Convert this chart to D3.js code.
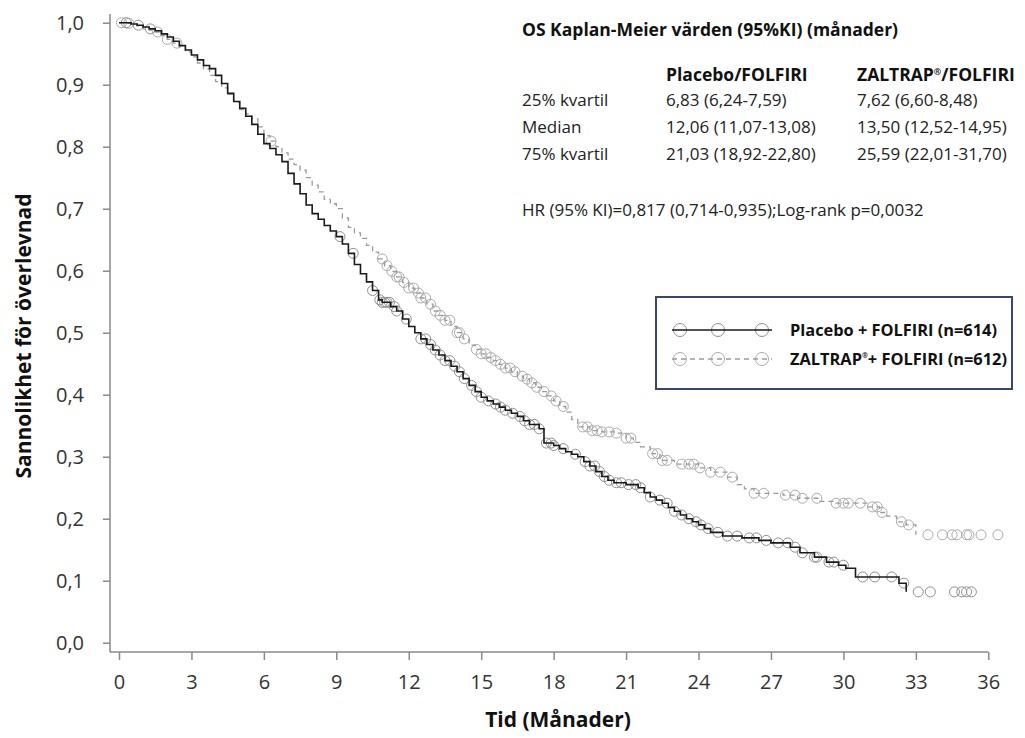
<!DOCTYPE html>
<html>
<head>
<meta charset="utf-8">
<title>OS Kaplan-Meier</title>
<script src="https://d3js.org/d3.v7.min.js"></script>
<style>
  body { margin: 0; background: #fff; }
  svg { font-family: "Open Sans", "Noto Sans", sans-serif; }
  .axis path { display: none; }
  .axis line { stroke: #8a8a8a; stroke-width: 1.5; }
  .axis text { font-family: "Open Sans", sans-serif; font-size: 20px; fill: #333; }
  .axis-title { font-size: 21px; font-weight: bold; fill: #111; }
  .tbl { font-size: 17px; fill: #222; }
  .tbl-b { font-size: 17.5px; font-weight: bold; fill: #111; }
  .leg-text { font-size: 16px; font-weight: bold; fill: #111; }
</style>
</head>
<body>
<div id="chart"></div>
<script>
// Kaplan-Meier steps: time (months) and survival
const placeboTime = [0, 0.25, 0.5, 0.75, 1.0, 1.25, 1.5, 1.75, 2.0, 2.25, 2.5, 2.75, 3.0, 3.25, 3.5, 3.75, 4.0, 4.25, 4.5, 4.75,
  5.0, 5.25, 5.5, 5.75, 6.0, 6.25, 6.5, 6.75, 7.0, 7.25, 7.5, 7.75, 8.0, 8.25, 8.5, 8.75, 9.0, 9.25, 9.5, 9.75,
  10.0, 10.25, 10.5, 10.75, 10.9, 11.25, 11.5, 11.75, 12.0, 12.25, 12.5, 12.75, 13.0, 13.25, 13.5, 13.75, 14.0, 14.25, 14.5, 14.75,
  15.0, 15.25, 15.5, 15.75, 16.0, 16.25, 16.5, 16.75, 17.0, 17.4, 17.6, 18.0, 18.25, 18.5, 18.75, 19.0, 19.25, 19.5, 19.75, 20.0,
  20.25, 20.5, 21.0, 21.5, 21.75, 22.0, 22.25, 22.5, 22.75, 23.0, 23.25, 23.5, 23.75, 24.0, 24.25, 24.5, 25.0, 25.8, 26.5, 27.0,
  27.8, 28.2, 28.8, 29.3, 29.8, 30.1, 30.5, 32.3, 32.6];
const placeboSurv = [1.0, 1.0, 0.998, 0.996, 0.993, 0.99, 0.987, 0.982, 0.977, 0.97, 0.963, 0.956, 0.948, 0.94, 0.931, 0.926, 0.915, 0.902, 0.886, 0.873,
  0.862, 0.849, 0.836, 0.82, 0.805, 0.797, 0.787, 0.776, 0.757, 0.74, 0.724, 0.706, 0.692, 0.683, 0.673, 0.664, 0.655, 0.643, 0.628, 0.61,
  0.595, 0.582, 0.568, 0.553, 0.549, 0.542, 0.535, 0.522, 0.51, 0.5, 0.49, 0.481, 0.472, 0.464, 0.455, 0.446, 0.437, 0.426, 0.415, 0.405,
  0.396, 0.39, 0.385, 0.38, 0.375, 0.37, 0.365, 0.358, 0.352, 0.345, 0.322, 0.318, 0.313, 0.308, 0.304, 0.30, 0.292, 0.285, 0.276, 0.268,
  0.262, 0.258, 0.255, 0.25, 0.242, 0.235, 0.23, 0.225, 0.218, 0.212, 0.206, 0.2, 0.195, 0.19, 0.184, 0.178, 0.172, 0.169, 0.165, 0.161,
  0.154, 0.145, 0.138, 0.13, 0.125, 0.12, 0.106, 0.096, 0.082];
const placeboCensor = [0.3, 0.8, 1.3, 9.15, 9.7, 10.5, 10.8, 10.9, 11.0, 11.1, 11.2, 11.4, 11.5, 11.9, 12.5, 12.7, 12.9, 13.1, 13.3, 13.5,
  13.7, 13.9, 14.1, 14.3, 14.6, 14.8, 15.0, 15.3, 15.6, 15.8, 16.0, 16.3, 16.6, 16.8, 17.0, 17.2, 17.4, 17.7, 17.9, 18.0,
  18.4, 18.9, 19.3, 19.5, 19.7, 19.9, 20.1, 20.3, 20.6, 20.8, 21.1, 21.4, 21.6, 22.0, 22.4, 22.7, 23.0, 23.3, 23.6, 23.9,
  24.1, 24.4, 24.8, 25.2, 25.6, 26.1, 26.4, 26.8, 27.3, 27.7, 28.0, 28.3, 28.8, 28.9, 29.4, 29.6, 30.0, 30.8, 31.3, 32.0,
  32.5, 33.1, 33.6, 34.6, 34.9, 35.1, 35.3];

const zaltrapTime = [0, 0.25, 0.5, 0.75, 1.0, 1.25, 1.5, 1.75, 2.0, 2.25, 2.5, 2.75, 3.0, 3.25, 3.5, 3.75, 4.0, 4.25, 4.5, 4.75,
  5.0, 5.25, 5.5, 5.75, 6.0, 6.25, 6.5, 6.75, 7.0, 7.25, 7.5, 7.75, 8.0, 8.25, 8.5, 8.75, 9.0, 9.25, 9.5, 9.75,
  10.0, 10.25, 10.5, 10.75, 11.0, 11.25, 11.5, 11.75, 12.0, 12.25, 12.5, 12.75, 13.0, 13.25, 13.5, 13.75, 14.0, 14.25, 14.5, 14.75,
  15.0, 15.25, 15.5, 15.75, 16.0, 16.25, 16.5, 16.75, 17.0, 17.25, 17.5, 17.75, 18.0, 18.25, 18.5, 18.75, 19.0, 19.5, 20.0, 20.6,
  21.0, 21.3, 21.6, 22.0, 22.4, 23.0, 24.0, 24.5, 25.2, 25.6, 25.9, 26.3, 27.5, 28.1, 29.0, 29.6, 31.0, 31.5, 31.8, 32.2,
  32.6, 33.0];
const zaltrapSurv = [1.0, 0.999, 0.998, 0.995, 0.99, 0.988, 0.985, 0.979, 0.973, 0.967, 0.961, 0.953, 0.945, 0.935, 0.925, 0.915, 0.905, 0.895, 0.885, 0.872,
  0.86, 0.853, 0.845, 0.832, 0.818, 0.809, 0.8, 0.79, 0.78, 0.771, 0.762, 0.75, 0.738, 0.727, 0.715, 0.708, 0.7, 0.685, 0.67, 0.661,
  0.652, 0.641, 0.63, 0.619, 0.608, 0.599, 0.59, 0.581, 0.572, 0.564, 0.556, 0.546, 0.535, 0.528, 0.52, 0.51, 0.5, 0.49, 0.48, 0.473,
  0.466, 0.46, 0.455, 0.449, 0.443, 0.437, 0.43, 0.425, 0.419, 0.412, 0.405, 0.398, 0.39, 0.381, 0.372, 0.36, 0.348, 0.342, 0.34, 0.338,
  0.33, 0.323, 0.316, 0.305, 0.294, 0.288, 0.282, 0.275, 0.267, 0.255, 0.248, 0.241, 0.238, 0.233, 0.228, 0.225, 0.219, 0.21, 0.204, 0.195,
  0.19, 0.174];
const zaltrapCensor = [0.1, 0.4, 1.6, 2.0, 2.4, 6.3, 10.9, 11.1, 11.3, 11.5, 11.6, 11.8, 12.0, 12.2, 12.4, 12.5, 12.7, 12.9, 13.1, 13.3,
  13.5, 13.7, 14.0, 14.1, 14.3, 14.8, 15.0, 15.2, 15.4, 15.6, 15.8, 16.0, 16.2, 16.4, 16.7, 16.9, 17.1, 17.3, 17.6, 17.9,
  18.1, 18.4, 19.2, 19.4, 19.6, 19.8, 20.0, 20.3, 20.6, 21.0, 21.2, 22.1, 22.3, 22.5, 22.7, 23.3, 23.6, 23.8, 24.06, 24.5,
  24.9, 25.4, 26.3, 26.7, 27.6, 28.0, 28.3, 28.9, 29.7, 30.0, 30.2, 30.7, 31.2, 31.4, 31.6, 32.4, 32.7, 33.5, 34.1, 34.5,
  34.7, 35.1, 35.2, 35.7, 36.4];

const xTicks = [0, 3, 6, 9, 12, 15, 18, 21, 24, 27, 30, 33, 36];
const yTicks = [0, 0.1, 0.2, 0.3, 0.4, 0.5, 0.6, 0.7, 0.8, 0.9, 1.0];

const tableTitle = "OS Kaplan-Meier värden (95%KI) (månader)";
const tableRows = ["25% kvartil", "Median", "75% kvartil"];
const placeboCol = ["6,83 (6,24-7,59)", "12,06 (11,07-13,08)", "21,03 (18,92-22,80)"];
const zaltrapCol = ["7,62 (6,60-8,48)", "13,50 (12,52-14,95)", "25,59 (22,01-31,70)"];
const hrText = "HR (95% KI)=0,817 (0,714-0,935);Log-rank p=0,0032";

const width = 1025, height = 738;
const svg = d3.select('#chart').append('svg')
  .attr('width', width).attr('height', height);

const x = d3.scaleLinear().domain([0, 36]).range([119, 988.3]);
const y = d3.scaleLinear().domain([0, 1]).range([642.7, 22.7]);
const comma = v => d3.format('.1f')(v).replace('.', ',');

// axes
svg.append('line').attr('x1', 110).attr('x2', 110).attr('y1', 14).attr('y2', 652)
  .attr('stroke', '#8a8a8a').attr('stroke-width', 1.5);
svg.append('line').attr('x1', 110).attr('x2', 988.3).attr('y1', 652).attr('y2', 652)
  .attr('stroke', '#8a8a8a').attr('stroke-width', 1.5);

svg.append('g').attr('class', 'axis').attr('transform', 'translate(110,0)')
  .call(d3.axisLeft(y).tickValues(yTicks).tickFormat(comma).tickSize(7).tickPadding(19));
svg.append('g').attr('class', 'axis').attr('transform', 'translate(0,652)')
  .call(d3.axisBottom(x).tickValues(xTicks).tickFormat(d3.format('d')).tickSize(8).tickPadding(15));

svg.append('text').attr('class', 'axis-title')
  .attr('transform', 'translate(31,336) rotate(-90)')
  .attr('text-anchor', 'middle').text('Sannolikhet för överlevnad');
svg.append('text').attr('class', 'axis-title')
  .attr('x', 558).attr('y', 727).attr('text-anchor', 'middle').text('Tid (Månader)');

// curves
const placebo = placeboTime.map((t, i) => ({ t, s: placeboSurv[i] }));
const zaltrap = zaltrapTime.map((t, i) => ({ t, s: zaltrapSurv[i] }));
const line = d3.line().x(d => x(d.t)).y(d => y(d.s)).curve(d3.curveStepAfter);
const bis = d3.bisector(d => d.t).right;
const survAt = (data, t) => data[Math.max(0, bis(data, t) - 1)].s;

function censor(times, data, color) {
  svg.append('g').selectAll('circle').data(times).join('circle')
    .attr('cx', d => x(d)).attr('cy', d => y(survAt(data, d))).attr('r', 5)
    .attr('fill', 'none').attr('stroke', color).attr('stroke-width', 1);
}

censor(zaltrapCensor, zaltrap, '#ababab');
svg.append('path').datum(zaltrap).attr('d', line)
  .attr('fill', 'none').attr('stroke', '#9a9a9a').attr('stroke-width', 1.3)
  .attr('stroke-dasharray', '5,4');

censor(placeboCensor, placebo, '#909090');
svg.append('path').datum(placebo).attr('d', line)
  .attr('fill', 'none').attr('stroke', '#1a1a1a').attr('stroke-width', 1.6);

// statistics table
const tx = 522, c1 = 666, c2 = 857;
svg.append('text').attr('class', 'tbl-b').attr('x', tx).attr('y', 36).text(tableTitle);
svg.append('text').attr('class', 'tbl-b').attr('x', c1).attr('y', 81).text('Placebo/FOLFIRI');
const zh = svg.append('text').attr('class', 'tbl-b').attr('x', c2).attr('y', 81);
zh.append('tspan').text('ZALTRAP');
zh.append('tspan').attr('font-size', 9).attr('dy', -6).text('®');
zh.append('tspan').attr('dy', 6).text('/FOLFIRI');
tableRows.forEach((r, i) => {
  const yy = 106 + i * 27;
  svg.append('text').attr('class', 'tbl').attr('x', tx).attr('y', yy).text(r);
  svg.append('text').attr('class', 'tbl').attr('x', c1).attr('y', yy).text(placeboCol[i]);
  svg.append('text').attr('class', 'tbl').attr('x', c2).attr('y', yy).text(zaltrapCol[i]);
});
svg.append('text').attr('class', 'tbl').attr('x', tx).attr('y', 216).text(hrText);

// legend
svg.append('rect').attr('x', 656).attr('y', 297).attr('width', 356).attr('height', 92)
  .attr('fill', '#fff').attr('stroke', '#3a4570').attr('stroke-width', 2);
const legRows = [
  { y: 330, stroke: '#1a1a1a', dash: null, circ: '#909090', w: 1.6 },
  { y: 359, stroke: '#9a9a9a', dash: '5,4', circ: '#ababab', w: 1.3 }
];
legRows.forEach(r => {
  [680, 718, 762].forEach(cx => svg.append('circle').attr('cx', cx).attr('cy', r.y).attr('r', 6.5)
    .attr('fill', 'none').attr('stroke', r.circ).attr('stroke-width', 1));
  svg.append('line').attr('x1', 672).attr('x2', 772).attr('y1', r.y).attr('y2', r.y)
    .attr('stroke', r.stroke).attr('stroke-width', r.w).attr('stroke-dasharray', r.dash);
});
svg.append('text').attr('class', 'leg-text').attr('x', 790).attr('y', 336)
  .attr('textLength', 207).attr('lengthAdjust', 'spacingAndGlyphs')
  .text('Placebo + FOLFIRI (n=614)');
const l2 = svg.append('text').attr('class', 'leg-text').attr('x', 790).attr('y', 365)
  .attr('textLength', 217).attr('lengthAdjust', 'spacingAndGlyphs');
l2.append('tspan').text('ZALTRAP');
l2.append('tspan').attr('font-size', 7).attr('dy', -7).text('®');
l2.append('tspan').attr('dy', 7).text('+ FOLFIRI (n=612)');
</script>
</body>
</html>
